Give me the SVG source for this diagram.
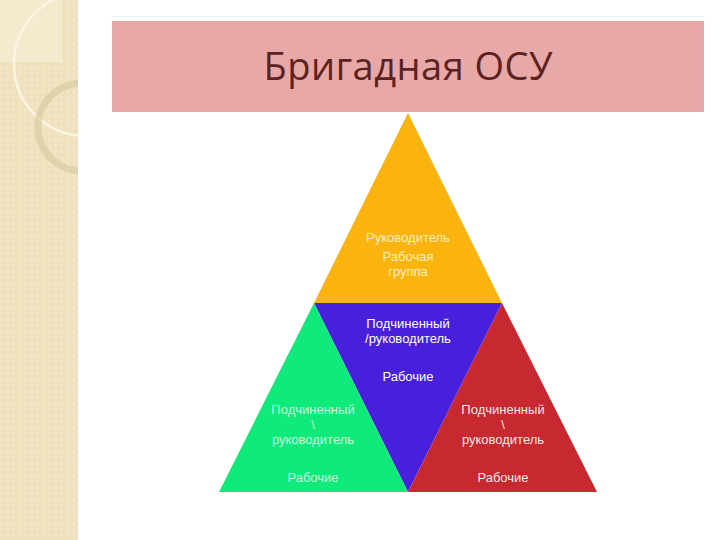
<svg xmlns="http://www.w3.org/2000/svg" width="720" height="540" viewBox="0 0 720 540">
  <style>
    .lbl { font-family: "Liberation Sans", Arial, sans-serif; font-size: 13px; text-anchor: middle; }
    .w { fill: #ffffff; }
    .wy { fill: #fff6dc; fill-opacity: 0.9; }
    .wg { fill: #e8fff0; fill-opacity: 0.85; }
    .wr { fill: #ffffff; fill-opacity: 0.92; }
  </style>
  <defs>
    <pattern id="dots" width="6" height="6" patternUnits="userSpaceOnUse">
      <rect width="6" height="6" fill="#efe1bb"/>
      <rect x="0" y="0" width="3" height="3" fill="#f2e6c6"/>
    </pattern>
    <clipPath id="stripClip"><rect x="0" y="0" width="78" height="540"/></clipPath>
  </defs>
  <rect width="720" height="540" fill="#ffffff"/>
  <g id="side-strip" clip-path="url(#stripClip)">
    <rect x="0" y="0" width="78" height="540" fill="url(#dots)"/>
    <rect x="0" y="0" width="62" height="62" fill="#f5ecd2" opacity="0.8"/>
    <circle cx="86" cy="64" r="72" fill="none" stroke="#fbf5e4" stroke-width="2.5"/>
    <circle cx="82" cy="127" r="44" fill="none" stroke="#d9cca2" stroke-width="7" opacity="0.7"/>
  </g>
  <line x1="112" y1="17" x2="704" y2="17" stroke="#e3eef0" stroke-width="1"/>
  <g id="title">
    <rect x="112" y="21" width="592" height="91" fill="#e8a8a8"/>
    <text x="408" y="80" font-family="'Open Sans', 'Noto Sans', sans-serif" font-size="38" fill="#5c2222" text-anchor="middle" textLength="289" lengthAdjust="spacing">Бригадная ОСУ</text>
  </g>
  <g id="top-triangle">
    <polygon points="408,113 314,303 502,303" fill="#fbb40f"/>
    <text class="lbl wy" x="408" y="242">Руководитель</text>
    <text class="lbl wy" x="408" y="261">Рабочая</text>
    <text class="lbl wy" x="408" y="276">группа</text>
  </g>
  <g id="middle-triangle">
    <polygon points="314,303 502,303 408,492" fill="#4820dc"/>
    <text class="lbl w" x="408" y="328">Подчиненный</text>
    <text class="lbl w" x="408" y="343">/руководитель</text>
    <text class="lbl w" x="408" y="381">Рабочие</text>
  </g>
  <g id="left-triangle">
    <polygon points="314,303 408,492 219,492" fill="#10ea7a"/>
    <text class="lbl wg" x="313" y="414">Подчиненный</text>
    <text class="lbl wg" x="313" y="429">\</text>
    <text class="lbl wg" x="313" y="444">руководитель</text>
    <text class="lbl wg" x="313" y="482">Рабочие</text>
  </g>
  <g id="right-triangle">
    <polygon points="502,303 597,492 408,492" fill="#c8282f"/>
    <text class="lbl wr" x="503" y="414">Подчиненный</text>
    <text class="lbl wr" x="503" y="429">\</text>
    <text class="lbl wr" x="503" y="444">руководитель</text>
    <text class="lbl wr" x="503" y="482">Рабочие</text>
  </g>
  <g id="connectors"></g>
</svg>
